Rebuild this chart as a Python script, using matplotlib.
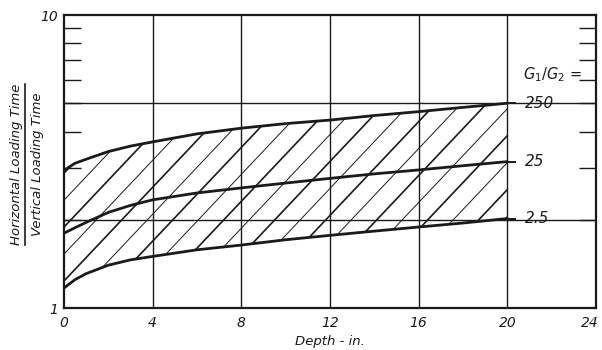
import numpy as np
import matplotlib
matplotlib.use('Agg')
import matplotlib.pyplot as plt
from matplotlib.patches import Polygon
from matplotlib.lines import Line2D
from matplotlib.ticker import FixedLocator, NullFormatter
from matplotlib.transforms import ScaledTranslation

# depth (in.) and loading-time ratio for each G1/G2 value
depth = [0, 0.5, 1, 2, 3, 4, 6, 8, 10, 12, 14, 16, 18, 20]
ratio_250 = [2.95, 3.12, 3.22, 3.42, 3.57, 3.69, 3.93, 4.11, 4.26, 4.38, 4.54, 4.68, 4.84, 5.0]
ratio_25 = [1.80, 1.88, 1.96, 2.12, 2.24, 2.34, 2.47, 2.57, 2.67, 2.77, 2.87, 2.96, 3.06, 3.16]
ratio_2_5 = [1.17, 1.25, 1.31, 1.40, 1.46, 1.50, 1.58, 1.64, 1.71, 1.77, 1.83, 1.89, 1.95, 2.02]
curve_labels = ['250', '25', '2.5']
xticks = [0, 4, 8, 12, 16, 20, 24]

ink = '#1a1a1a'
plt.rcParams['font.family'] = 'DejaVu Sans'

fig = plt.figure(figsize=(6.02, 3.5), dpi=100)
ax = fig.add_axes([0.1063, 0.12, 0.8837, 0.837])
ax.set_yscale('log')
ax.set_xlim(0, 24)
ax.set_ylim(1, 10)

# grid
for x in xticks[1:-1]:
    ax.axvline(x, color=ink, lw=1.0, zorder=1)
for y in [2, 5]:
    ax.axhline(y, color=ink, lw=1.0, zorder=1)

for sp in ax.spines.values():
    sp.set_linewidth(1.6)
    sp.set_color(ink)

# shaded band between the lowest and highest curves
band = Polygon(np.column_stack([depth + depth[::-1], ratio_2_5 + ratio_250[::-1]]),
               closed=True, fill=False, edgecolor='none', transform=ax.transData)
ax.add_patch(band)
slope = 0.08
c0 = np.log10(ratio_2_5[0])
for i, c in enumerate(np.arange(c0 - 2.0, c0 + 0.8, 0.092)):
    ln, = ax.plot([0, 20], [10 ** c, 10 ** (c + slope * 20)], color=ink,
                  lw=1.2 if i % 2 == 0 else 0.7, zorder=2)
    ln.set_clip_path(band)

# curves with short leader stubs and labels
for vals, lab in zip([ratio_250, ratio_25, ratio_2_5], curve_labels):
    ax.plot(depth, vals, color=ink, lw=2.0, zorder=3, solid_capstyle='round')
    ax.plot([depth[-1], depth[-1] + 0.35], [vals[-1], vals[-1]], color=ink, lw=1.4, zorder=3)
    ax.text(depth[-1] + 0.8, vals[-1], lab, fontsize=11, fontstyle='italic',
            va='center', ha='left', color=ink)
ax.text(20.7, 6.25, r'$G_1/G_2$ =', fontsize=10.5, va='center', ha='left', color=ink)

# ticks
ax.xaxis.set_major_locator(FixedLocator(xticks))
ax.set_xticklabels([str(v) for v in xticks], fontstyle='italic', fontsize=10, color=ink)
ax.tick_params(axis='x', length=0, pad=6)
last = ax.get_xticklabels()[-1]
last.set_transform(last.get_transform() + ScaledTranslation(-6 / 100, 0, fig.dpi_scale_trans))
ax.yaxis.set_major_locator(FixedLocator([1, 10]))
ax.set_yticklabels(['1', '10'], fontstyle='italic', fontsize=10, color=ink)
ax.tick_params(axis='y', which='major', length=0, pad=4)
ax.yaxis.set_minor_locator(FixedLocator([2, 3, 4, 5, 6, 7, 8, 9]))
ax.yaxis.set_minor_formatter(NullFormatter())
ax.tick_params(axis='y', which='minor', direction='in', length=12, width=1.0,
               left=True, right=True, color=ink)

ax.set_xlabel('Depth - in.', fontstyle='italic', fontsize=9.5, color=ink, labelpad=3)

# y label drawn as a fraction
fig.text(0.027, 0.53, 'Horizontal Loading Time', rotation=90, fontstyle='italic',
         fontsize=9.5, ha='center', va='center', color=ink)
fig.text(0.062, 0.53, 'Vertical Loading Time', rotation=90, fontstyle='italic',
         fontsize=9.5, ha='center', va='center', color=ink)
fig.add_artist(Line2D([0.042, 0.042], [0.30, 0.76], color=ink, lw=1.2,
                      transform=fig.transFigure))

fig.savefig('out.png', dpi=100)
